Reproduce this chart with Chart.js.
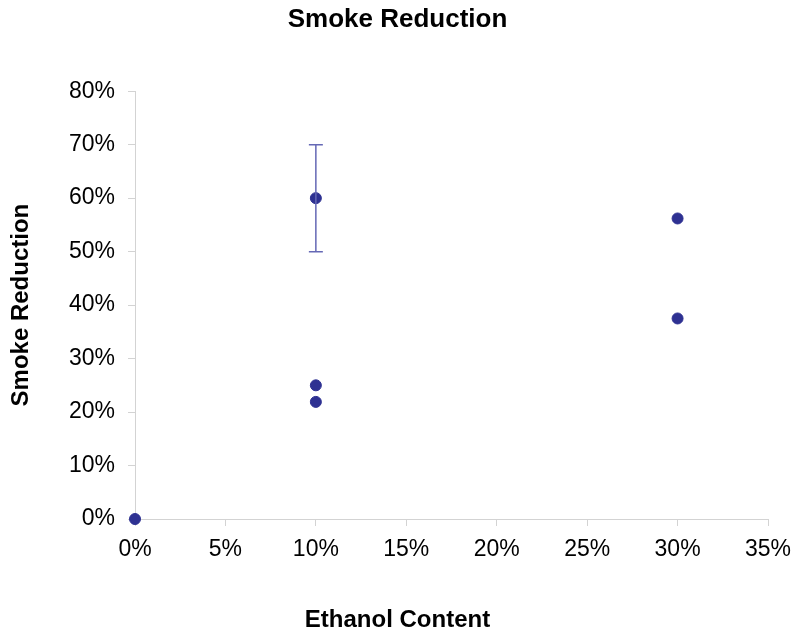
<!DOCTYPE html>
<html>
<head>
<meta charset="utf-8">
<script src="https://cdn.jsdelivr.net/npm/chart.js@4.4.0/dist/chart.umd.min.js"></script>
<style>
  html, body { margin: 0; padding: 0; background: #fff; }
  #wrap { width: 795px; height: 637px; }
</style>
</head>
<body>
<div id="wrap"><canvas id="chart" width="795" height="637"></canvas></div>
<script>
// --- data (percent) ---
const ethanol = [0, 10, 10, 10, 30, 30];
const smoke = [0, 60, 25, 21.9, 56.2, 37.5];
const errLow = [null, 50, null, null, null, null];
const errHigh = [null, 70, null, null, null, null];

const pointColor = '#2E3192';
const axisColor = '#d3d3d3';
const fontFam = '"Liberation Sans", Arial, Helvetica, sans-serif';

// draws the vertical error bar with caps
const errorBars = {
    id: 'errorBars',
    afterDatasetsDraw(chart) {
        const ctx = chart.ctx;
        const xs = chart.scales.x, ys = chart.scales.y;
        ctx.save();
        ctx.strokeStyle = '#6568b5';
        ctx.lineWidth = 1.5;
        ethanol.forEach((e, i) => {
            if (errLow[i] == null) return;
            const x = xs.getPixelForValue(e);
            const y1 = ys.getPixelForValue(errLow[i]);
            const y2 = ys.getPixelForValue(errHigh[i]);
            ctx.beginPath();
            ctx.moveTo(x, y1); ctx.lineTo(x, y2);
            ctx.moveTo(x - 7, y1); ctx.lineTo(x + 7, y1);
            ctx.moveTo(x - 7, y2); ctx.lineTo(x + 7, y2);
            ctx.stroke();
        });
        ctx.restore();
    }
};

new Chart(document.getElementById('chart'), {
    type: 'scatter',
    data: {
        datasets: [{
            label: 'Smoke Reduction',
            data: ethanol.map((e, i) => ({ x: e, y: smoke[i] })),
            backgroundColor: pointColor,
            borderColor: pointColor,
            pointRadius: 5.5,
            pointHoverRadius: 5.5,
            clip: false
        }]
    },
    options: {
        responsive: false,
        animation: false,
        layout: { padding: 0 },
        plugins: {
            legend: { display: false },
            tooltip: { enabled: false },
            title: {
                display: true,
                text: 'Smoke Reduction',
                color: '#000',
                font: { family: fontFam, size: 26, weight: 'bold' },
                padding: { top: 4, bottom: 56 }
            },
            // x axis title, centred on the whole canvas like the original
            subtitle: {
                display: true,
                position: 'bottom',
                text: 'Ethanol Content',
                color: '#000',
                font: { family: fontFam, size: 24, weight: 'bold' },
                padding: { top: 0, bottom: 2 }
            }
        },
        scales: {
            x: {
                type: 'linear',
                min: 0, max: 35,
                afterFit: s => { s.height = 87.2; s.paddingRight = 27; },
                ticks: {
                    stepSize: 5,
                    color: '#000',
                    padding: 10,
                    font: { family: fontFam, size: 23 },
                    callback: v => v + '%'
                },
                grid: { drawOnChartArea: false, color: axisColor, tickLength: 7 },
                border: { color: axisColor }
            },
            y: {
                min: 0, max: 80,
                afterFit: s => { s.width = 135; },
                ticks: {
                    stepSize: 5,
                    color: '#000',
                    padding: 13,
                    font: { family: fontFam, size: 23 },
                    callback: v => (v % 10 === 0 ? v + '%' : '')
                },
                grid: { drawOnChartArea: false, color: axisColor, tickLength: 7 },
                border: { color: axisColor },
                title: {
                    display: true,
                    text: 'Smoke Reduction',
                    color: '#000',
                    font: { family: fontFam, size: 24, weight: 'bold' },
                    padding: { top: 7, bottom: 0 }
                }
            }
        }
    },
    plugins: [errorBars]
});
</script>
</body>
</html>
